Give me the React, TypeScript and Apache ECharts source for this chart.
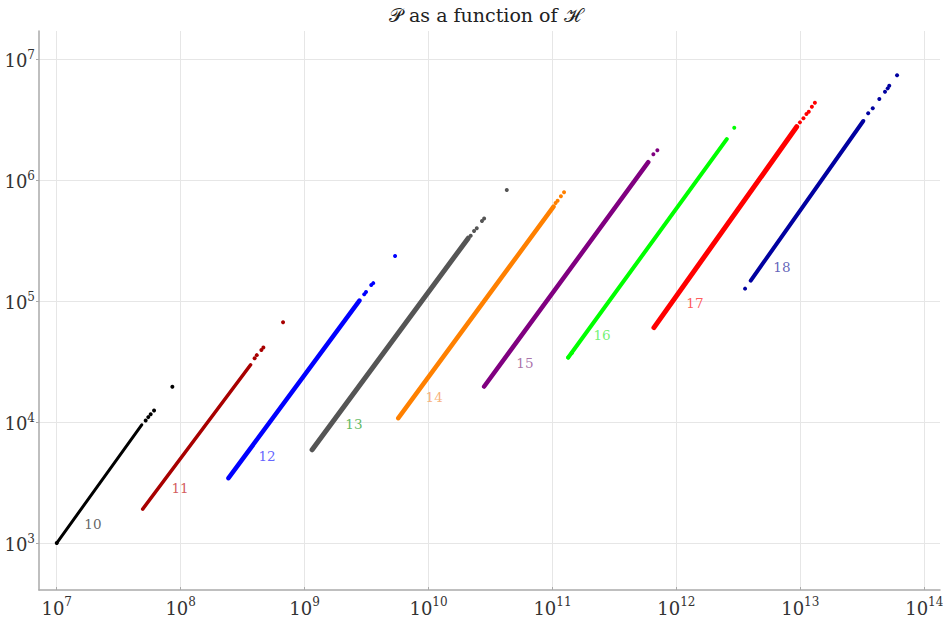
import React, { useEffect, useRef } from "react";
import * as echarts from "echarts";

// Group names (label next to each cloud)
const categories = ["10", "11", "12", "13", "14", "15", "16", "17", "18"];

// Dense part of each cloud: first and last point [H, P]
const denseStart = [
  [1.0e7, 1.0e3], [4.94e7, 1.91e3], [2.43e8, 3.44e3], [1.15e9, 5.9e3], [5.7e9, 1.08e4],
  [2.81e10, 1.97e4], [1.34e11, 3.42e4], [6.59e11, 6.05e4], [3.98e12, 1.48e5],
];
const denseEnd = [
  [4.85e7, 9.5e3], [3.67e8, 2.98e4], [2.77e9, 1.01e5], [2.09e10, 3.32e5], [1.02e11, 6.05e5],
  [5.93e11, 1.41e6], [2.55e12, 2.19e6], [9.35e12, 2.77e6], [3.22e13, 3.09e6],
];

// Sparse, separately visible points of each cloud [H, P]
const sparse10 = [[1.0e7, 1.0e3], [5.22e7, 1.03e4], [5.48e7, 1.1e4], [5.73e7, 1.16e4], [6.1e7, 1.25e4], [8.57e7, 1.96e4]];
const sparse11 = [[3.95e8, 3.38e4], [4.11e8, 3.58e4], [4.48e8, 3.95e4], [4.65e8, 4.14e4], [6.7e8, 6.7e4]];
const sparse12 = [[3.03e9, 1.14e5], [3.13e9, 1.19e5], [3.45e9, 1.36e5], [3.58e9, 1.41e5], [5.37e9, 2.36e5]];
const sparse13 = [[2.19e10, 3.48e5], [2.33e10, 3.81e5], [2.45e10, 4.01e5], [2.7e10, 4.61e5], [2.81e10, 4.82e5], [4.28e10, 8.32e5]];
const sparse14 = [[1.06e11, 6.49e5], [1.1e11, 6.78e5], [1.17e11, 7.38e5], [1.24e11, 7.96e5]];
const sparse15 = [[6.52e11, 1.64e6], [7.02e11, 1.77e6]];
const sparse16 = [[1.34e11, 3.42e4], [1.43e11, 3.72e4], [2.93e12, 2.72e6]];
const sparse17 = [[9.93e12, 3.01e6], [1.06e13, 3.25e6], [1.12e13, 3.53e6], [1.17e13, 3.69e6], [1.24e13, 4.06e6], [1.31e13, 4.38e6]];
const sparse18 = [[3.58e12, 1.27e5], [3.53e13, 3.58e6], [3.84e13, 3.94e6], [4.34e13, 4.7e6], [4.82e13, 5.4e6], [5.07e13, 5.75e6], [5.22e13, 6.05e6], [6.03e13, 7.38e6]];
const sparsePoints = [sparse10, sparse11, sparse12, sparse13, sparse14, sparse15, sparse16, sparse17, sparse18];

// Where each group's name is written [H, P]
const labelAt = [
  [1.96e7, 1.45e3], [9.9e7, 2.86e3], [4.98e8, 5.26e3], [2.5e9, 9.7e3], [1.11e10, 1.62e4],
  [6.0e10, 3.09e4], [2.51e11, 5.27e4], [1.41e12, 9.7e4], [7.1e12, 1.92e5],
];

// Axis ticks (decades)
const xTickExponents = [7, 8, 9, 10, 11, 12, 13, 14];
const yTickExponents = [3, 4, 5, 6, 7];

// Styles
const colors = ["#000000", "#a80000", "#0000ff", "#555555", "#ff8000", "#800080", "#00ff00", "#ff0000", "#0000a0"];
const labelColors = ["#404040", "#c83232", "#3c3cff", "#3aaa3a", "#f5a05a", "#945094", "#50ee50", "#ff3232", "#3c3ca8"];
const lineWidths = [3, 3.5, 4.5, 5, 4.5, 4.5, 4, 5, 4];

const FONT = "DejaVu Serif";
const lg = (p: number[]) => [Math.log10(p[0]), Math.log10(p[1])];

export default function App() {
  const ref = useRef<HTMLDivElement>(null);
  useEffect(() => {
    if (!ref.current) return;
    const chart = echarts.init(ref.current, null, { renderer: "svg" });
    const series: any[] = [];
    categories.forEach((name, i) => {
      series.push({
        type: "line",
        name: name + "-dense",
        data: [lg(denseStart[i]), lg(denseEnd[i])],
        symbol: "none",
        lineStyle: { color: colors[i], width: lineWidths[i], cap: "round" },
        silent: true,
        z: 2,
      });
      series.push({
        type: "scatter",
        name: name + "-sparse",
        data: sparsePoints[i].map(lg),
        symbol: "circle",
        symbolSize: 4,
        itemStyle: { color: colors[i], opacity: 1 },
        silent: true,
        z: 3,
      });
      series.push({
        type: "scatter",
        name: name + "-label",
        data: [lg(labelAt[i])],
        symbolSize: 0,
        silent: true,
        label: {
          show: true,
          position: "inside",
          formatter: name,
          color: labelColors[i],
          fontFamily: FONT,
          fontSize: 13.5,
        },
        z: 4,
      });
    });
    const rich = {
      b: { fontFamily: FONT, fontSize: 18, color: "#333", verticalAlign: "bottom", padding: [3, 0, 0, 0] },
      s: { fontFamily: FONT, fontSize: 12, color: "#333", verticalAlign: "top" },
    };
    const fmt = (v: number) => `{b|10}{s|${Math.round(v)}}`;
    chart.setOption({
      animation: false,
      title: {
        text: "𝒫 as a function of ℋ",
        left: 384,
        top: 0,
        textStyle: { fontFamily: FONT, fontSize: 19, fontWeight: "normal", color: "#222" },
      },
      grid: { left: 39, right: 3, top: 31, bottom: 32, containLabel: false, outerBoundsMode: "none" },
      xAxis: {
        type: "value",
        min: 6.857,
        max: 14.127,
        axisLine: { show: true, onZero: false, lineStyle: { color: "#aaaaaa", width: 1.5 } },
        axisTick: { show: true, customValues: xTickExponents, inside: true, length: 3, lineStyle: { color: "#aaaaaa" } },
        axisLabel: { customValues: xTickExponents, formatter: fmt, rich, margin: 6 },
        splitLine: { show: true, lineStyle: { color: "#e6e6e6", width: 1 } },
      },
      yAxis: {
        type: "value",
        min: 2.612,
        max: 7.234,
        axisLine: { show: true, onZero: false, lineStyle: { color: "#aaaaaa", width: 1.5 } },
        axisTick: { show: true, customValues: yTickExponents, inside: false, length: 3, lineStyle: { color: "#aaaaaa" } },
        axisLabel: { customValues: yTickExponents, formatter: fmt, rich, margin: 4 },
        splitLine: { show: true, lineStyle: { color: "#e6e6e6", width: 1 } },
      },
      series,
    });
    return () => chart.dispose();
  }, []);
  return (
    <div
      ref={ref}
      style={{ position: "fixed", left: 0, top: 0, width: 943, height: 622, background: "#fff" }}
    />
  );
}
